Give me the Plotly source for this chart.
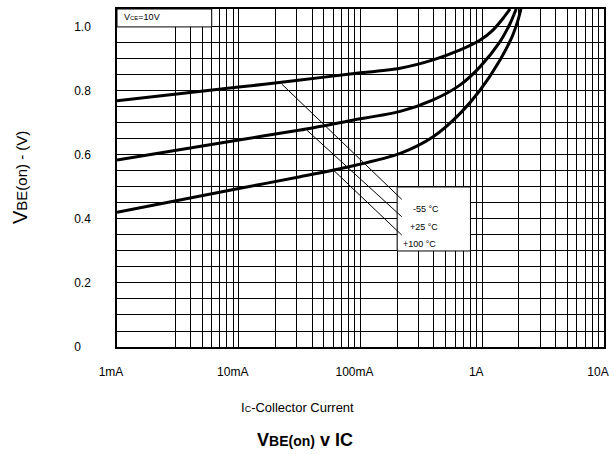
import plotly.graph_objects as go

# ---- data ----
ic_m55 = [0.001, 0.01, 0.032, 0.082, 0.212, 0.395, 0.659, 0.962, 1.23, 1.49, 1.69]
vbe_m55 = [0.769, 0.812, 0.834, 0.853, 0.871, 0.897, 0.928, 0.959, 0.991, 1.028, 1.056]

ic_25 = [0.001, 0.01, 0.032, 0.082, 0.212, 0.395, 0.659, 0.962, 1.40, 1.69, 1.90]
vbe_25 = [0.584, 0.647, 0.678, 0.707, 0.736, 0.772, 0.819, 0.876, 0.954, 1.010, 1.056]

ic_100 = [0.001, 0.01, 0.032, 0.082, 0.212, 0.395, 0.659, 0.962, 1.40, 1.76, 1.97, 2.08]
vbe_100 = [0.421, 0.495, 0.532, 0.564, 0.605, 0.657, 0.730, 0.803, 0.897, 0.970, 1.022, 1.056]

series_names = ["-55 °C", "+25 °C", "+100 °C"]

# grid / tick positions
x_grid = ([0.001, 0.003, 0.004, 0.005, 0.006, 0.007, 0.008, 0.009]
          + [0.01, 0.02, 0.03, 0.04, 0.05, 0.06, 0.07, 0.08, 0.09]
          + [0.1, 0.2, 0.3, 0.4, 0.5, 0.6, 0.7, 0.8, 0.9]
          + [1, 2, 3, 4, 5, 6, 7, 8, 9, 10])
NB = "\u00a0"
x_labels = {0.001: "1mA", 0.01: "10mA", 0.1: "100mA", 1: "1A", 10: "10A"}
y_grid = [0, 0.05, 0.1, 0.15, 0.2, 0.25, 0.3, 0.35, 0.4, 0.45, 0.5, 0.55, 0.6, 0.65,
          0.7, 0.75, 0.8, 0.85, 0.9, 0.95, 1.0]
y_labels = {0: "0" + NB * 3, 0.2: "0.2", 0.4: "0.4", 0.6: "0.6", 0.8: "0.8", 1.0: "1.0"}

FONT = "Liberation Sans, Arial, sans-serif"

fig = go.Figure()
for xs, ys, nm in [(ic_m55, vbe_m55, series_names[0]),
                   (ic_25, vbe_25, series_names[1]),
                   (ic_100, vbe_100, series_names[2])]:
    fig.add_trace(go.Scatter(x=xs, y=ys, mode="lines", name=nm,
                             line=dict(color="black", width=3, shape="spline", smoothing=0.8),
                             showlegend=False, hoverinfo="skip"))

W, H = 614, 454
L, R, T, B = 117, 10, 9, 107
pw, ph = W - L - R, H - T - B


def px(x):
    return (x - L) / pw


def py(y):
    return (H - B - y) / ph


shapes = []
# Vce label box (1mA..6mA, 1.0..top)
shapes.append(dict(type="rect", xref="paper", yref="paper", x0=0, x1=0.1945, y0=0.947, y1=1.0,
                   fillcolor="white", line=dict(color="black", width=1), layer="above"))
# legend box (0.2A..0.8A, 0.3..0.5V)
shapes.append(dict(type="rect", xref="paper", yref="paper", x0=0.5753, x1=0.7258, y0=0.2841, y1=0.4735,
                   fillcolor="white", line=dict(color="black", width=1), layer="above"))
# leader lines
for (x0, y0, x1, y1) in [(281.7, 84, 401.7, 199.3), (306.7, 130, 401.7, 216.7), (333.3, 170, 401.7, 235)]:
    shapes.append(dict(type="line", xref="paper", yref="paper", x0=px(x0), y0=py(y0), x1=px(x1), y1=py(y1),
                       line=dict(color="black", width=1), layer="above"))

annotations = []
for name, (cx, cy) in zip(series_names, [(426, 209), (424, 227), (419, 244)]):
    annotations.append(dict(text=name, xref="paper", yref="paper", x=px(cx), y=py(cy),
                            xanchor="center", yanchor="middle", showarrow=False,
                            font=dict(family=FONT, size=9, color="black")))
annotations.append(dict(text="V<span style='font-size:6px'>CE</span>=10V", xref="paper", yref="paper",
                        x=px(122), y=py(17), xanchor="left", yanchor="middle", showarrow=False,
                        font=dict(family=FONT, size=9, color="black")))
annotations.append(dict(text="V<span style='font-size:15px'>BE(on) - (V)</span>", xref="paper", yref="paper",
                        x=px(20), y=0.5, xanchor="center", yanchor="middle", textangle=-90, showarrow=False,
                        font=dict(family=FONT, size=20, color="black")))
annotations.append(dict(text="I<span style='font-size:9px'>C</span>-Collector Current", xref="paper",
                        yref="paper", x=px(297), y=py(407), xanchor="center", yanchor="middle", showarrow=False,
                        font=dict(family=FONT, size=13, color="black")))
annotations.append(dict(text="<b>V<span style='font-size:14px'>BE(on)</span> v IC</b>", xref="paper",
                        yref="paper", x=px(305), y=py(440), xanchor="center", yanchor="middle", showarrow=False,
                        font=dict(family=FONT, size=18, color="black")))

fig.update_layout(
    width=W, height=H,
    margin=dict(l=L, r=R, t=T, b=B, pad=0, autoexpand=False),
    paper_bgcolor="white", plot_bgcolor="white",
    font=dict(family=FONT, color="black"),
    shapes=shapes, annotations=annotations,
    xaxis=dict(type="log", range=[-3, 1], tickmode="array", tickvals=x_grid,
               ticktext=[x_labels.get(v, "") for v in x_grid], automargin=False,
               showgrid=True, gridcolor="black", gridwidth=1, zeroline=False,
               showline=True, mirror=True, linecolor="black", linewidth=1.5,
               ticks="", ticklabelstandoff=13, ticklabelshift=-6, ticklabeloverflow="allow",
               tickfont=dict(size=12, family=FONT, color="black")),
    yaxis=dict(range=[0, 1.056], tickmode="array", tickvals=y_grid,
               ticktext=[y_labels.get(v, "") for v in y_grid], automargin=False,
               showgrid=True, gridcolor="black", gridwidth=1, zeroline=False,
               showline=True, mirror=True, linecolor="black", linewidth=1.5,
               ticks="", ticklabelstandoff=22, ticklabeloverflow="allow",
               tickfont=dict(size=12, family=FONT, color="black")),
)

fig.write_html("out.html")
